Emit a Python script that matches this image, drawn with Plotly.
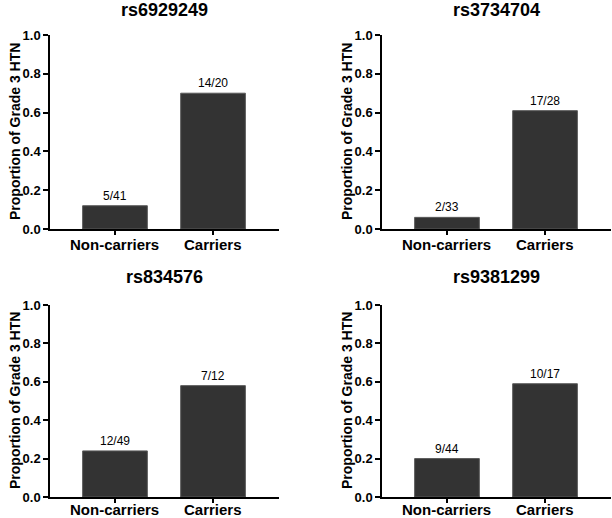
import plotly.graph_objects as go

# ---- data ----
snps = ["rs6929249", "rs3734704", "rs834576", "rs9381299"]
categories = ["Non-carriers", "Carriers"]
proportions = [
    [0.12, 0.70],
    [0.06, 0.61],
    [0.24, 0.58],
    [0.20, 0.59],
]
counts = [
    ["5/41", "14/20"],
    ["2/33", "17/28"],
    ["12/49", "7/12"],
    ["9/44", "10/17"],
]
y_ticks = [0.0, 0.2, 0.4, 0.6, 0.8, 1.0]
y_title = "Proportion of Grade 3 HTN"

W, H = 612, 518
FONT = "Arial, Liberation Sans, Helvetica, sans-serif"

# panel pixel geometry: (x_left, x_right, y_top, y_bottom)
panels = [
    (50, 279, 35, 229),
    (382, 611, 35, 229),
    (50, 279, 305, 497),
    (382, 611, 305, 497),
]
title_y = [10, 10, 277, 277]
ytitle_x = [15, 347, 15, 347]
label_shift = [-15, -15, -12, -12]

fig = go.Figure()
annotations = []
layout = {}
for i, (snp, vals, cnt) in enumerate(zip(snps, proportions, counts)):
    xl, xr, yt, yb = panels[i]
    n = "" if i == 0 else str(i + 1)
    xa, ya = "x" + n, "y" + n
    fig.add_trace(go.Bar(
        x=categories, y=vals, xaxis=xa, yaxis=ya, width=0.66,
        marker=dict(color="#333333", line=dict(color="#5a5a5a", width=1)),
        showlegend=False, hoverinfo="skip",
    ))
    layout["xaxis" + n] = dict(
        domain=[xl / W, xr / W], anchor=ya, range=[-0.663, 1.673],
        showline=True, linecolor="black", linewidth=1.5,
        ticks="outside", ticklen=4, tickwidth=1.5, tickcolor="black",
        showgrid=False, zeroline=False, automargin=False,
        showticklabels=False, fixedrange=True,
    )
    layout["yaxis" + n] = dict(
        domain=[1 - yb / H, 1 - yt / H], anchor=xa, range=[0, 1.0],
        tickvals=y_ticks, ticktext=[f"{v:.1f}" for v in y_ticks],
        showline=True, linecolor="black", linewidth=1.5,
        ticks="outside", ticklen=5, tickwidth=1.5, tickcolor="black",
        showgrid=False, zeroline=False, automargin=False,
        tickfont=dict(family=FONT, size=13, color="black", weight="bold"),
        fixedrange=True,
    )
    for c, v, t in zip(categories, vals, cnt):
        annotations.append(dict(
            x=c, y=v, xref=xa, yref=ya, text=t, showarrow=False,
            yanchor="bottom", yshift=1,
            font=dict(family=FONT, size=12, color="black"),
        ))
        # category label under the axis
        annotations.append(dict(
            x=c, y=1 - yb / H, xref=xa, yref="paper", text=f"<b>{c}</b>",
            showarrow=False, yanchor="middle", yshift=label_shift[i],
            borderpad=0,
            font=dict(family=FONT, size=15, color="black"),
        ))
    annotations.append(dict(
        x=(xl + xr) / 2 / W, y=1 - title_y[i] / H, xref="paper", yref="paper",
        text=f"<b>{snp}</b>", showarrow=False, xanchor="center", yanchor="middle",
        font=dict(family=FONT, size=18, color="black"),
    ))
    annotations.append(dict(
        x=ytitle_x[i] / W, y=1 - (yt + yb) / 2 / H, xref="paper", yref="paper",
        text=f"<b>{y_title}</b>", showarrow=False, textangle=-90,
        xanchor="center", yanchor="middle",
        font=dict(family=FONT, size=14, color="black"),
    ))

fig.update_layout(
    width=W, height=H, margin=dict(l=0, r=0, t=0, b=0, autoexpand=False),
    paper_bgcolor="white", plot_bgcolor="white", template="none",
    annotations=annotations, bargap=0.34, **layout,
)
fig.write_html("out.html", config={"displayModeBar": False},
               post_script="document.body.style.margin='0';")
